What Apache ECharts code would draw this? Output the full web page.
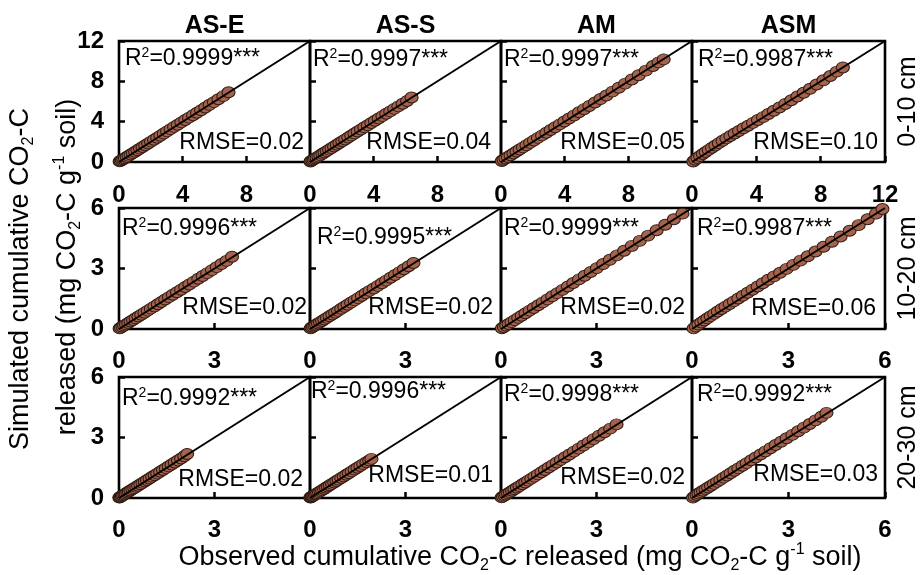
<!DOCTYPE html>
<html><head><meta charset="utf-8">
<script src="https://cdn.jsdelivr.net/npm/echarts@6/dist/echarts.min.js"></script>
<style>html,body{margin:0;padding:0;background:#fff}#c{width:922px;height:575px}</style>
</head><body><div id="c"></div>
<script>
// ---------- DATA (observed x, simulated y), mg CO2-C g-1 soil ----------
// 0-10 cm
const obs_d1_ASE = [0.04,0.10,0.18,0.27,0.37,0.48,0.60,0.73,0.87,1.01,1.16,1.32,1.48,1.65,1.83,2.01,2.20,2.40,2.60,2.81,3.02,3.24,3.46,3.69,3.92,4.16,4.40,4.65,4.90,5.16,5.42,5.69,5.96,6.24,6.55,6.88];
const sim_d1_ASE = [0.06,0.12,0.19,0.28,0.38,0.49,0.61,0.74,0.88,1.02,1.17,1.33,1.49,1.66,1.84,2.02,2.21,2.41,2.61,2.82,3.04,3.26,3.48,3.70,3.93,4.16,4.40,4.64,4.89,5.14,5.40,5.67,5.94,6.22,6.53,6.92];
const obs_d1_ASS = [0.03,0.08,0.15,0.23,0.32,0.42,0.53,0.65,0.78,0.91,1.05,1.20,1.35,1.51,1.68,1.85,2.03,2.21,2.40,2.59,2.79,2.99,3.20,3.41,3.63,3.85,4.08,4.31,4.55,4.79,5.04,5.29,5.55,5.82,6.10,6.38];
const sim_d1_ASS = [0.05,0.11,0.18,0.26,0.35,0.45,0.56,0.68,0.81,0.94,1.08,1.23,1.38,1.54,1.71,1.88,2.06,2.24,2.43,2.62,2.82,3.02,3.23,3.44,3.65,3.87,4.09,4.32,4.55,4.78,5.02,5.27,5.52,5.78,6.05,6.40];
const obs_d1_AM  = [0.05,0.15,0.28,0.43,0.60,0.78,0.97,1.17,1.38,1.60,1.83,2.07,2.32,2.58,2.85,3.12,3.40,3.69,3.98,4.28,4.59,4.90,5.22,5.55,5.90,6.25,6.62,7.00,7.40,7.80,8.22,8.65,9.10,9.55,9.90,10.22];
const sim_d1_AM  = [0.10,0.22,0.35,0.50,0.67,0.85,1.04,1.24,1.45,1.67,1.90,2.14,2.39,2.64,2.90,3.17,3.45,3.73,4.02,4.32,4.62,4.93,5.24,5.56,5.90,6.24,6.60,6.98,7.37,7.77,8.18,8.61,9.06,9.52,9.88,10.18];
const obs_d1_ASM = [0.08,0.20,0.34,0.50,0.67,0.85,1.04,1.24,1.45,1.67,1.90,2.14,2.39,2.65,2.92,3.20,3.49,3.79,4.10,4.42,4.75,5.09,5.44,5.80,6.17,6.55,6.94,7.34,7.75,8.17,8.60,9.00,9.38];
const sim_d1_ASM = [0.05,0.22,0.40,0.59,0.79,0.99,1.20,1.42,1.64,1.87,2.10,2.34,2.58,2.83,3.08,3.34,3.60,3.88,4.16,4.45,4.76,5.08,5.41,5.76,6.12,6.49,6.87,7.27,7.68,8.10,8.53,8.96,9.38];
// 10-20 cm
const obs_d2_ASE = [0.02,0.06,0.11,0.16,0.22,0.29,0.36,0.44,0.52,0.61,0.70,0.80,0.90,1.00,1.11,1.22,1.33,1.45,1.57,1.69,1.82,1.95,2.08,2.21,2.35,2.49,2.63,2.77,2.92,3.07,3.22,3.38,3.55];
const sim_d2_ASE = [0.03,0.07,0.12,0.17,0.23,0.30,0.37,0.45,0.53,0.62,0.71,0.81,0.91,1.01,1.12,1.23,1.34,1.46,1.58,1.70,1.82,1.95,2.08,2.21,2.35,2.49,2.63,2.77,2.92,3.07,3.22,3.38,3.58];
const obs_d2_ASS = [0.02,0.05,0.09,0.14,0.19,0.25,0.31,0.38,0.45,0.53,0.61,0.70,0.79,0.88,0.98,1.08,1.18,1.29,1.40,1.51,1.63,1.75,1.87,2.00,2.13,2.26,2.39,2.53,2.67,2.81,2.95,3.10,3.25];
const sim_d2_ASS = [0.03,0.07,0.11,0.16,0.21,0.27,0.33,0.40,0.47,0.55,0.63,0.72,0.81,0.90,1.00,1.10,1.20,1.31,1.42,1.53,1.65,1.77,1.89,2.01,2.14,2.27,2.40,2.54,2.68,2.82,2.96,3.11,3.27];
const obs_d2_AM  = [0.03,0.09,0.16,0.24,0.33,0.43,0.54,0.65,0.77,0.90,1.03,1.17,1.31,1.46,1.61,1.77,1.93,2.10,2.27,2.45,2.63,2.82,3.01,3.21,3.42,3.64,3.87,4.11,4.36,4.62,4.89,5.16,5.43,5.70];
const sim_d2_AM  = [0.04,0.10,0.17,0.25,0.34,0.44,0.55,0.66,0.78,0.91,1.04,1.18,1.32,1.47,1.62,1.78,1.94,2.11,2.28,2.46,2.64,2.83,3.02,3.22,3.43,3.65,3.88,4.12,4.37,4.63,4.90,5.17,5.44,5.72];
const obs_d2_ASM = [0.05,0.12,0.20,0.29,0.38,0.48,0.58,0.69,0.80,0.92,1.04,1.17,1.30,1.44,1.58,1.73,1.88,2.04,2.20,2.37,2.55,2.74,2.94,3.15,3.37,3.60,3.84,4.09,4.35,4.62,4.90,5.18,5.46,5.72,5.92];
const sim_d2_ASM = [0.03,0.12,0.22,0.32,0.42,0.53,0.64,0.75,0.87,0.99,1.11,1.24,1.37,1.51,1.65,1.80,1.95,2.11,2.27,2.44,2.61,2.79,2.98,3.18,3.39,3.61,3.84,4.08,4.33,4.59,4.87,5.15,5.44,5.72,5.95];
// 20-30 cm
const obs_d3_ASE = [0.01,0.03,0.06,0.09,0.13,0.17,0.21,0.26,0.31,0.36,0.42,0.48,0.54,0.60,0.67,0.74,0.81,0.88,0.96,1.04,1.12,1.20,1.29,1.38,1.47,1.56,1.65,1.75,1.85,1.95,2.05,2.14];
const sim_d3_ASE = [0.02,0.04,0.07,0.10,0.14,0.18,0.22,0.27,0.32,0.37,0.43,0.49,0.55,0.61,0.68,0.75,0.82,0.89,0.97,1.05,1.13,1.21,1.30,1.39,1.48,1.57,1.66,1.76,1.86,1.96,2.07,2.18];
const obs_d3_ASS = [0.01,0.03,0.05,0.08,0.11,0.15,0.19,0.23,0.28,0.33,0.38,0.44,0.50,0.56,0.62,0.69,0.76,0.83,0.90,0.98,1.06,1.14,1.22,1.31,1.40,1.49,1.58,1.67,1.77,1.86,1.93];
const sim_d3_ASS = [0.02,0.04,0.06,0.09,0.12,0.16,0.20,0.24,0.29,0.34,0.39,0.45,0.51,0.57,0.63,0.70,0.77,0.84,0.91,0.99,1.07,1.15,1.23,1.32,1.41,1.50,1.59,1.68,1.77,1.86,1.94];
const obs_d3_AM  = [0.02,0.06,0.11,0.16,0.22,0.28,0.35,0.42,0.50,0.58,0.67,0.76,0.85,0.95,1.05,1.16,1.27,1.38,1.50,1.62,1.75,1.88,2.01,2.15,2.29,2.44,2.59,2.75,2.91,3.08,3.25,3.43,3.63];
const sim_d3_AM  = [0.03,0.07,0.12,0.17,0.23,0.29,0.36,0.43,0.51,0.59,0.68,0.77,0.86,0.96,1.06,1.17,1.28,1.39,1.51,1.63,1.76,1.89,2.02,2.16,2.30,2.45,2.60,2.76,2.92,3.09,3.26,3.44,3.65];
const obs_d3_ASM = [0.03,0.08,0.14,0.20,0.27,0.34,0.42,0.50,0.59,0.68,0.78,0.88,0.98,1.09,1.20,1.32,1.44,1.57,1.70,1.84,1.98,2.13,2.28,2.44,2.60,2.77,2.94,3.12,3.30,3.48,3.66,3.84,4.02,4.18];
const sim_d3_ASM = [0.02,0.08,0.15,0.22,0.29,0.36,0.44,0.52,0.61,0.70,0.80,0.90,1.01,1.12,1.23,1.35,1.47,1.60,1.73,1.87,2.01,2.16,2.31,2.47,2.63,2.79,2.96,3.13,3.31,3.49,3.67,3.85,4.03,4.22];

const columns = ['AS-E','AS-S','AM','ASM'];
const depths = ['0-10 cm','10-20 cm','20-30 cm'];
const axisMax = [12, 6, 6];
const axisInterval = [4, 3, 3];
const r2Labels = [['0.9999','0.9997','0.9997','0.9987'],['0.9996','0.9995','0.9999','0.9987'],['0.9992','0.9996','0.9998','0.9992']];
const rmseLabels = [['0.02','0.04','0.05','0.10'],['0.02','0.02','0.02','0.06'],['0.02','0.01','0.02','0.03']];

const observed  = [[obs_d1_ASE,obs_d1_ASS,obs_d1_AM,obs_d1_ASM],[obs_d2_ASE,obs_d2_ASS,obs_d2_AM,obs_d2_ASM],[obs_d3_ASE,obs_d3_ASS,obs_d3_AM,obs_d3_ASM]];
const simulated = [[sim_d1_ASE,sim_d1_ASS,sim_d1_AM,sim_d1_ASM],[sim_d2_ASE,sim_d2_ASS,sim_d2_AM,sim_d2_ASM],[sim_d3_ASE,sim_d3_ASS,sim_d3_AM,sim_d3_ASM]];

// ---------- LAYOUT ----------
const FONT = "'Liberation Sans', Arial, Helvetica, sans-serif";
const colLeft = [119, 310, 501, 692];
const colW = [191, 191, 191, 193];
const rowTop = [41, 208, 377];
const rowH = 121;
const r2Off = [[18,19,19,19],[21,30,21,21],[22,15,18,18]];
const r2X = [[6,3,3,6],[3,7,3,5],[3,1,3,5]];
const rmseOff = [[19,19,19,19],[21,21,21,20],[18,22,20,23]];
const rmseRight = [[6,10,7,7],[3,8,7,9],[7,8,7,7]];
const xLabelMargin = [21, 20, 20];

const grids = [], xAxes = [], yAxes = [], series = [], graphics = [];
let gi = 0;
for (let r = 0; r < 3; r++) {
  for (let c = 0; c < 4; c++) {
    grids.push({left: colLeft[c], top: rowTop[r], width: colW[c], height: rowH,
      show: true, borderColor: '#000', borderWidth: 2.6, backgroundColor: 'transparent',
      containLabel: false, outerBoundsMode: 'none'});
    const tickStyle = {show: true, inside: true, length: 6, lineStyle: {color: '#000', width: 2.5}};
    xAxes.push({type: 'value', gridIndex: gi, min: 0, max: axisMax[r], interval: axisInterval[r],
      axisLine: {show: false}, axisTick: tickStyle, splitLine: {show: false},
      axisLabel: {show: true, margin: xLabelMargin[r], color: '#000', fontSize: 24, fontWeight: 'bold', fontFamily: FONT,
        showMinLabel: true, showMaxLabel: c === 3}});
    yAxes.push({type: 'value', gridIndex: gi, min: 0, max: axisMax[r], interval: axisInterval[r],
      axisLine: {show: false}, axisTick: tickStyle, splitLine: {show: false},
      axisLabel: {show: c === 0, margin: 15, color: '#000', fontSize: 24, fontWeight: 'bold', fontFamily: FONT,
        showMinLabel: true, showMaxLabel: true}});
    const ob = observed[r][c], si = simulated[r][c];
    const pts = [];
    for (let k = 0; k < Math.min(ob.length, si.length); k++) pts.push([ob[k], si[k]]);
    series.push({type: 'scatter', xAxisIndex: gi, yAxisIndex: gi, data: pts, symbol: 'circle',
      symbolSize: [13, 11], z: 2, silent: true,
      itemStyle: {color: '#A5624C', borderColor: '#2e1a10', borderWidth: 1, opacity: 1}});
    series.push({type: 'line', xAxisIndex: gi, yAxisIndex: gi, data: [[0, 0], [axisMax[r], axisMax[r]]],
      symbol: 'none', z: 3, silent: true, lineStyle: {color: '#000', width: 2}});
    graphics.push({type: 'text', x: colLeft[c] + r2X[r][c], y: rowTop[r] + r2Off[r][c], z: 10,
      style: {text: '{t|R}{s|2}{t|=' + r2Labels[r][c] + '***}', align: 'left', verticalAlign: 'middle',
        textAlign: 'left', textVerticalAlign: 'middle',
        rich: {t: {fontSize: 23, fontFamily: FONT, fill: '#000', lineHeight: 26},
               s: {fontSize: 14, fontFamily: FONT, fill: '#000', lineHeight: 14, verticalAlign: 'top'}}}});
    graphics.push({type: 'text', x: colLeft[c] + colW[c] - rmseRight[r][c], y: rowTop[r] + rowH - rmseOff[r][c], z: 10,
      style: {text: 'RMSE=' + rmseLabels[r][c], align: 'right', verticalAlign: 'middle',
        textAlign: 'right', textVerticalAlign: 'middle', fontSize: 23, fontFamily: FONT, fill: '#000',
        font: '23px ' + FONT}});
    gi++;
  }
}
for (let c = 0; c < 4; c++) {
  graphics.push({type: 'text', x: colLeft[c] + colW[c] / 2, y: 26,
    style: {text: columns[c], align: 'center', verticalAlign: 'middle', textAlign: 'center', textVerticalAlign: 'middle',
      font: 'bold 25px ' + FONT, fill: '#000'}});
}
for (let r = 0; r < 3; r++) {
  graphics.push({type: 'text', x: 908, y: rowTop[r] + rowH / 2, rotation: Math.PI / 2,
    style: {text: depths[r], align: 'center', verticalAlign: 'middle', textAlign: 'center', textVerticalAlign: 'middle',
      font: '25px ' + FONT, fill: '#000'}});
}
const titleRich = {
  t: {fontSize: 27, fontFamily: FONT, fill: '#000', lineHeight: 32},
  b: {fontSize: 16, fontFamily: FONT, fill: '#000', lineHeight: 16, verticalAlign: 'bottom'},
  p: {fontSize: 16, fontFamily: FONT, fill: '#000', lineHeight: 16, verticalAlign: 'top'}
};
graphics.push({type: 'text', x: 21, y: 279, rotation: Math.PI / 2,
  style: {text: '{t|Simulated cumulative CO}{b|2}{t|-C}', align: 'center', verticalAlign: 'middle',
    textAlign: 'center', textVerticalAlign: 'middle', rich: titleRich}});
graphics.push({type: 'text', x: 68, y: 267, rotation: Math.PI / 2,
  style: {text: '{t|released (mg CO}{b|2}{t|-C g}{p|-1}{t| soil)}', align: 'center', verticalAlign: 'middle',
    textAlign: 'center', textVerticalAlign: 'middle', rich: titleRich}});
graphics.push({type: 'text', x: 520, y: 558,
  style: {text: '{t|Observed cumulative CO}{b|2}{t|-C released (mg CO}{b|2}{t|-C g}{p|-1}{t| soil)}',
    align: 'center', verticalAlign: 'middle', textAlign: 'center', textVerticalAlign: 'middle', rich: titleRich}});

const chart = echarts.init(document.getElementById('c'), null, {renderer: 'canvas'});
chart.setOption({
  animation: false,
  backgroundColor: '#fff',
  grid: grids, xAxis: xAxes, yAxis: yAxes, series: series, graphic: graphics
});
</script></body></html>
